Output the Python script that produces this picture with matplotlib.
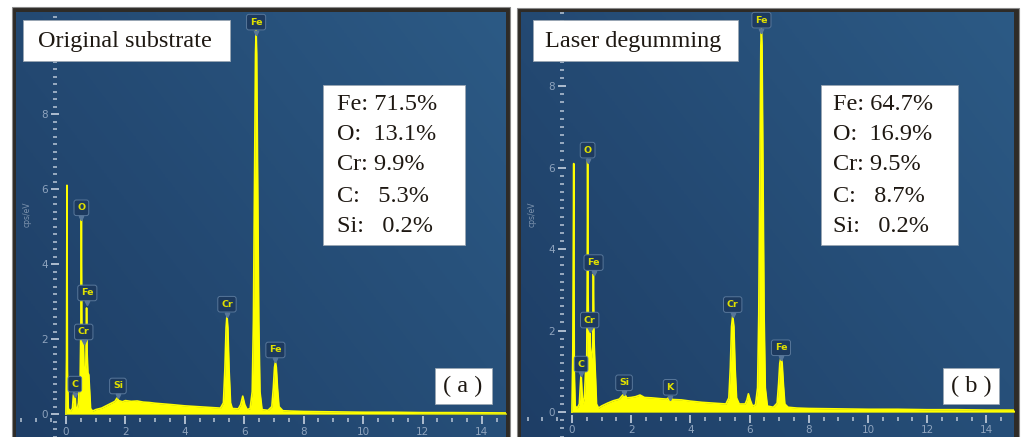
import numpy as np
import matplotlib
matplotlib.use("Agg")
import matplotlib.pyplot as plt
from matplotlib.patches import Rectangle
from matplotlib.ticker import MultipleLocator
from matplotlib.transforms import offset_copy

# ---- spectrum (a): original substrate, energy keV / cps per eV ----
energy_a = [0.00, 0.02, 0.035, 0.05, 0.08, 0.15, 0.22, 0.25, 0.27, 0.29, 0.31, 0.33,
            0.38, 0.42, 0.45, 0.48, 0.505, 0.52, 0.535, 0.56, 0.585, 0.61, 0.64, 0.67,
            0.695, 0.715, 0.74, 0.77, 0.80, 0.83, 0.90, 1.0, 1.2, 1.4, 1.55, 1.65, 1.72,
            1.78, 1.9, 2.0, 2.2, 2.4, 2.6, 2.8, 3.0, 3.3, 3.6, 4.0, 4.4, 4.8, 5.2, 5.3,
            5.35, 5.39, 5.42, 5.45, 5.49, 5.54, 5.6, 5.8, 5.88, 5.95, 6.02, 6.1, 6.2,
            6.27, 6.31, 6.35, 6.38, 6.40, 6.42, 6.45, 6.49, 6.53, 6.6, 6.8, 6.93, 6.98,
            7.02, 7.05, 7.08, 7.12, 7.17, 7.3, 7.6, 8.0, 9.0, 10.0, 11.0, 12.0, 13.0,
            14.0, 15.0]
cps_a = [0.0, 1.5, 6.1, 1.2, 0.15, 0.08, 0.15, 0.5, 0.56, 0.3, 0.52, 0.2,
         0.12, 0.3, 0.8, 1.0, 2.5, 5.25, 2.5, 1.3, 2.0, 1.2, 1.05, 1.3,
         2.83, 1.6, 1.1, 1.05, 0.6, 0.15, 0.08, 0.12, 0.16, 0.24, 0.3, 0.34, 0.43,
         0.36, 0.33, 0.36, 0.34, 0.35, 0.32, 0.31, 0.29, 0.27, 0.25, 0.22, 0.2, 0.18, 0.16, 0.3,
         1.2, 2.3, 2.64, 2.3, 1.2, 0.3, 0.15, 0.14, 0.25, 0.48, 0.25, 0.12, 0.15,
         0.6, 2.5, 6.5, 9.6, 10.25, 9.6, 6.5, 2.5, 0.6, 0.12, 0.1, 0.2, 0.7,
         1.25, 1.39, 1.25, 0.7, 0.2, 0.09, 0.08, 0.07, 0.06, 0.05, 0.05, 0.04, 0.04,
         0.035, 0.03]
labels_a = ["Fe", "O", "Fe", "Cr", "C", "Si", "Cr", "Fe"]
label_x_a = [6.40, 0.52, 0.72, 0.60, 0.30, 1.75, 5.42, 7.05]
label_y_a = [10.45, 5.50, 3.23, 2.19, 0.80, 0.75, 2.93, 1.71]
comp_a = ["Fe: 71.5%", "O:  13.1%", "Cr: 9.9%", "C:   5.3%", "Si:   0.2%"]

# ---- spectrum (b): laser degumming ----
energy_b = [0.00, 0.03, 0.06, 0.08, 0.11, 0.18, 0.25, 0.28, 0.31, 0.34, 0.37, 0.42,
            0.46, 0.50, 0.515, 0.53, 0.545, 0.57, 0.60, 0.63, 0.66, 0.70, 0.725, 0.745,
            0.77, 0.80, 0.83, 0.90, 1.0, 1.2, 1.4, 1.6, 1.72, 1.78, 1.85, 2.0, 2.15,
            2.3, 2.45, 2.7, 3.0, 3.2, 3.3, 3.4, 3.7, 4.0, 4.4, 4.8, 5.2, 5.3, 5.35,
            5.39, 5.43, 5.47, 5.51, 5.56, 5.65, 5.85, 5.91, 5.96, 6.02, 6.1, 6.2, 6.27,
            6.31, 6.35, 6.38, 6.40, 6.42, 6.45, 6.49, 6.53, 6.6, 6.8, 6.93, 6.98, 7.02,
            7.06, 7.10, 7.14, 7.19, 7.3, 7.6, 8.0, 9.0, 10.0, 11.0, 12.0, 13.0, 14.0, 15.0]
cps_b = [0.0, 1.5, 6.1, 1.0, 0.15, 0.1, 0.2, 0.6, 0.98, 0.5, 0.2, 0.35,
         1.0, 1.3, 3.0, 6.2, 3.0, 1.5, 2.1, 1.4, 1.3, 1.6, 3.39, 1.8,
         1.3, 0.8, 0.2, 0.1, 0.15, 0.22, 0.28, 0.32, 0.42, 0.45, 0.35, 0.36, 0.38,
         0.42, 0.36, 0.35, 0.33, 0.32, 0.37, 0.31, 0.3, 0.27, 0.24, 0.22, 0.2, 0.35, 1.1,
         2.1, 2.37, 2.1, 1.1, 0.35, 0.2, 0.2, 0.3, 0.45, 0.3, 0.15, 0.18, 0.6,
         2.4, 6.2, 9.0, 9.4, 9.0, 6.2, 2.4, 0.6, 0.15, 0.12, 0.22, 0.7, 1.2,
         1.35, 1.2, 0.7, 0.2, 0.12, 0.1, 0.09, 0.08, 0.07, 0.07, 0.06, 0.06, 0.05, 0.05]
labels_b = ["Fe", "O", "Fe", "Cr", "C", "Si", "K", "Cr", "Fe"]
label_x_b = [6.40, 0.53, 0.73, 0.60, 0.31, 1.76, 3.32, 5.43, 7.06]
label_y_b = [9.62, 6.43, 3.67, 2.26, 1.18, 0.72, 0.61, 2.64, 1.58]
comp_b = ["Fe: 64.7%", "O:  16.9%", "Cr: 9.5%", "C:   8.7%", "Si:   0.2%"]

W, H = 1022, 437
fig = plt.figure(figsize=(W / 100, H / 100), dpi=100)
fig.patch.set_facecolor("white")


def fx(px):
    return px / W


def fy(py):
    return 1 - py / H


def frame(x0, y0, x1, y1):
    fig.patches.append(Rectangle((fx(x0), fy(y1)), fx(x1 - x0), (y1 - y0) / H,
                                 transform=fig.transFigure, fc="#2e2b27",
                                 ec="#8a8a8a", lw=0.8, zorder=-5))


def white_box(x0, y0, x1, y1):
    fig.patches.append(Rectangle((fx(x0), fy(y1)), fx(x1 - x0), (y1 - y0) / H,
                                 transform=fig.transFigure, fc="white",
                                 ec="#9aa6b3", lw=0.6, zorder=10))


def panel(rect, xlim, ylim, energy, cps, labels, lx, ly, ytick_x, xtick_y):
    ax = fig.add_axes(rect)
    # background gradient
    gx, gy = np.meshgrid(np.linspace(0, 1, 200), np.linspace(0, 1, 100))
    t = 0.6 * gx + 0.4 * gy
    c0 = np.array([30, 62, 102]) / 255
    c1 = np.array([44, 90, 133]) / 255
    img = c0[None, None, :] + (c1 - c0)[None, None, :] * t[:, :, None]
    ax.imshow(img, extent=[0, 1, 0, 1], transform=ax.transAxes, aspect="auto",
              origin="lower", zorder=0)

    ax.fill_between(energy, 0, cps, color="#ffff00", lw=0, zorder=2)
    ax.plot(energy, cps, color="#ffff00", lw=1.2, zorder=2)

    ax.set_xlim(*xlim)
    ax.set_ylim(*ylim)

    for s in ["top", "right"]:
        ax.spines[s].set_visible(False)
    ax.spines["left"].set_position(("data", ytick_x))
    ax.spines["bottom"].set_position(("data", xtick_y))
    ax.spines["left"].set_color("none")
    ax.spines["bottom"].set_color("none")

    ax.set_xticks([0, 2, 4, 6, 8, 10, 12, 14])
    ax.set_yticks([0, 2, 4, 6, 8])
    ax.xaxis.set_minor_locator(MultipleLocator(0.5))
    ax.yaxis.set_minor_locator(MultipleLocator(0.2))
    ax.tick_params(which="major", direction="inout", length=5.5, width=1.3,
                   color="#b9c6d6", labelcolor="#8ea3bd", labelsize=7.5, pad=2)
    ax.tick_params(which="minor", direction="inout", length=3.2, width=1.1,
                   color="#b9c6d6")
    ax.text(0.022, 0.525, "cps/eV", transform=ax.transAxes, rotation=90,
            ha="center", va="center", fontsize=5.5, color="#7d93ad")

    mark_tr = offset_copy(ax.transData, fig=fig, y=-7.5, units="points")
    for s, x, y in zip(labels, lx, ly):
        ax.text(x, y, s, ha="center", va="center", fontsize=6.8, color="#e0e000",
                fontweight="bold", zorder=5,
                bbox=dict(boxstyle="round,pad=0.35,rounding_size=0.25",
                          fc="#1d3a5f", ec="#58779a", lw=0.7))
        ax.plot(x, y, marker="v", ms=3.2, color="#58779a", transform=mark_tr,
                zorder=5)
    return ax


# frames
frame(12, 7, 510, 445)
frame(517, 8, 1019, 445)

ax1 = panel([fx(16), 0, fx(506 - 16), (437 - 12) / H], (-1.68, 14.81), (-0.61, 10.72),
            energy_a, cps_a, labels_a, label_x_a, label_y_a, -0.37, -0.16)
ax2 = panel([fx(521), 0, fx(1014 - 521), (437 - 12) / H], (-1.72, 14.93), (-0.61, 9.82),
            energy_b, cps_b, labels_b, label_x_b, label_y_b, -0.34, -0.16)

serif = "Liberation Serif"
tsize = 17.5
tcol = "#1e1812"

# title boxes
white_box(23, 20, 230, 61)
fig.text(fx(38), fy(41), "Original substrate", family=serif, fontsize=tsize,
         color=tcol, ha="left", va="center", zorder=11)
white_box(533, 20, 738, 61)
fig.text(fx(545), fy(41), "Laser degumming", family=serif, fontsize=tsize,
         color=tcol, ha="left", va="center", zorder=11)

# composition boxes
line_y = [104, 135, 165, 196, 226]
white_box(323, 85, 465, 245)
for s, yy in zip(comp_a, line_y):
    fig.text(fx(337), fy(yy), s, family=serif, fontsize=tsize, color=tcol,
             ha="left", va="center", zorder=11)
white_box(821, 85, 958, 245)
for s, yy in zip(comp_b, line_y):
    fig.text(fx(833), fy(yy), s, family=serif, fontsize=tsize, color=tcol,
             ha="left", va="center", zorder=11)

# panel tags
white_box(435, 368, 492, 404)
fig.text(fx(463), fy(386), "( a )", family=serif, fontsize=tsize, color=tcol,
         ha="center", va="center", zorder=11)
white_box(943, 368, 999, 404)
fig.text(fx(971), fy(386), "( b )", family=serif, fontsize=tsize, color=tcol,
         ha="center", va="center", zorder=11)

fig.savefig("out.png", dpi=100)
